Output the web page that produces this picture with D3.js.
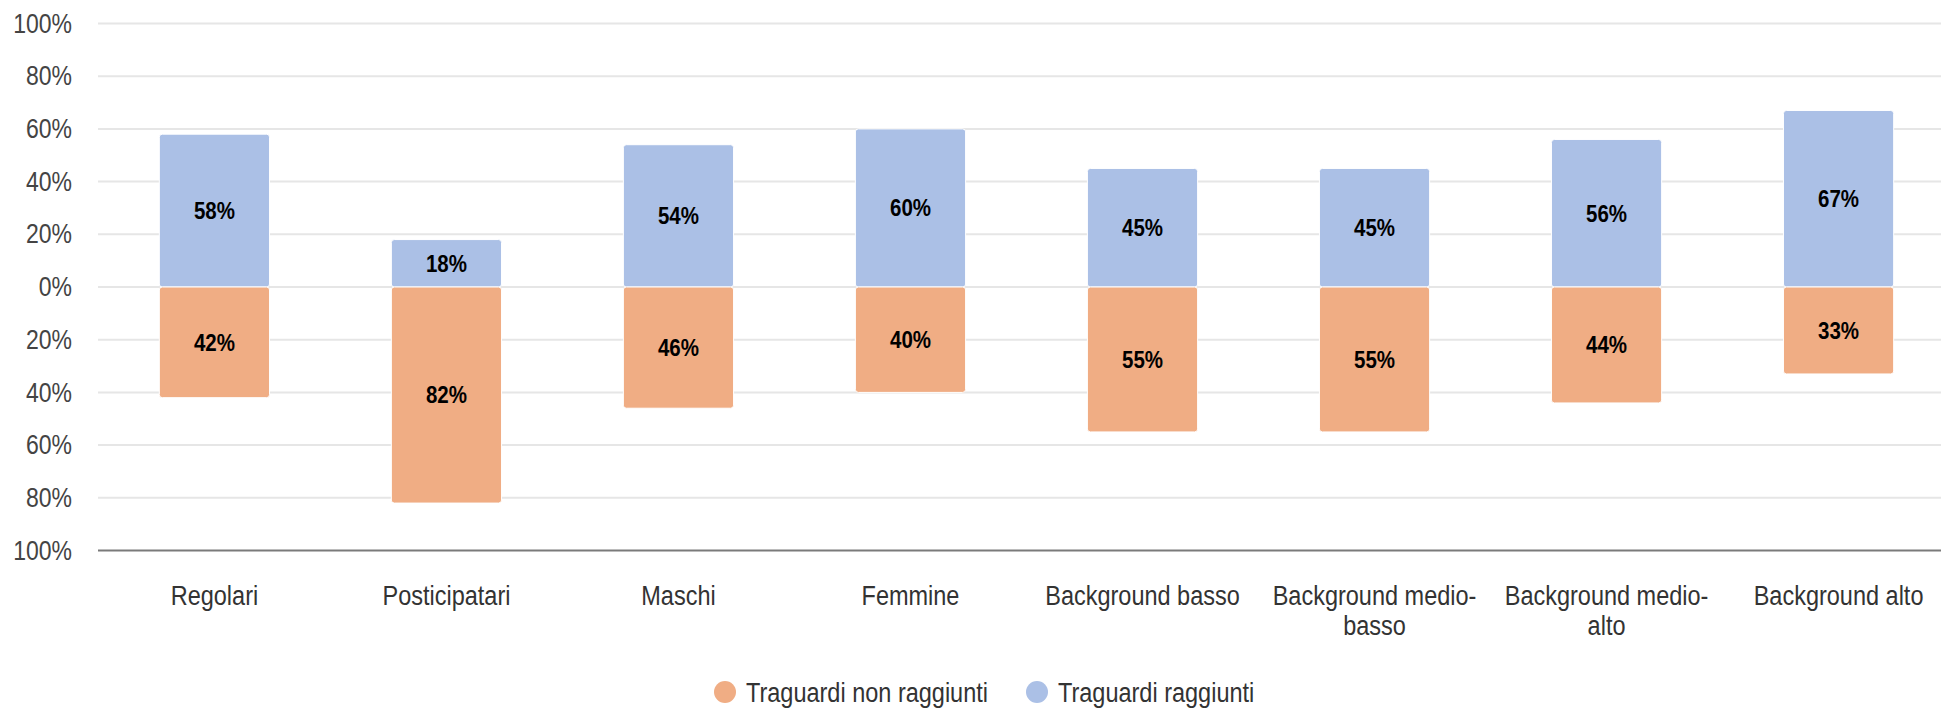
<!DOCTYPE html>
<html>
<head>
<meta charset="utf-8">
<script src="https://cdn.jsdelivr.net/npm/d3@7"></script>
<style>
    body { margin: 0; background: #fff; }
    text { font-family: "Liberation Sans", Arial, sans-serif; }
</style>
</head>
<body>
<svg id="chart" width="1941" height="710"></svg>
<script>
const categories = ["Regolari", "Posticipatari", "Maschi", "Femmine", "Background basso",
    "Background medio-basso", "Background medio-alto", "Background alto"];
const raggiunti = [58, 18, 54, 60, 45, 45, 56, 67];
const nonRaggiunti = [42, 82, 46, 40, 55, 55, 44, 33];
const yTicks = [-100, -80, -60, -40, -20, 0, 20, 40, 60, 80, 100];
const seriesNames = ["Traguardi non raggiunti", "Traguardi raggiunti"];
const seriesColors = ["#f0ad84", "#abc0e6"];

const svg = d3.select("#chart");
const W = 1941;
const stretch = 1.17; // text in the picture is a bit taller than it is wide

const x = d3.scaleBand()
    .domain(categories)
    .range([99, 1954])
    .paddingInner(0.525)
    .paddingOuter(0.26);

const y = d3.scaleLinear()
    .domain([-100, 100])
    .range([550.5, 23.5]);

const cx = d => x(d) + x.bandwidth() / 2;

// gridlines
svg.append("g")
    .selectAll("line")
    .data(yTicks.filter(d => d !== -100))
    .join("line")
    .attr("x1", 98)
    .attr("x2", W)
    .attr("y1", d => y(d))
    .attr("y2", d => y(d))
    .attr("stroke", "#e6e6e6")
    .attr("stroke-width", 2);

// y axis labels
const yAxis = d3.axisLeft(y)
    .tickValues(yTicks)
    .tickSize(0)
    .tickPadding(0)
    .tickFormat(d => Math.abs(d) + "%");

svg.append("g")
    .attr("transform", "translate(72,0)")
    .call(yAxis)
    .call(g => g.select(".domain").remove())
    .selectAll("text")
    .attr("font-size", 23)
    .attr("fill", "#444")
    .attr("font-family", "Liberation Sans, Arial, sans-serif")
    .attr("transform", `scale(1,${stretch})`);

// bars
const bars = svg.append("g");

bars.selectAll("rect.up")
    .data(categories)
    .join("rect")
    .attr("class", "up")
    .attr("x", d => x(d))
    .attr("width", x.bandwidth())
    .attr("y", (d, i) => y(raggiunti[i]))
    .attr("height", (d, i) => y(0) - y(raggiunti[i]))
    .attr("rx", 3)
    .attr("fill", seriesColors[1])
    .attr("stroke", "#fff")
    .attr("stroke-width", 1);

bars.selectAll("rect.down")
    .data(categories)
    .join("rect")
    .attr("class", "down")
    .attr("x", d => x(d))
    .attr("width", x.bandwidth())
    .attr("y", y(0))
    .attr("height", (d, i) => y(-nonRaggiunti[i]) - y(0))
    .attr("rx", 3)
    .attr("fill", seriesColors[0])
    .attr("stroke", "#fff")
    .attr("stroke-width", 1);

// value labels
const labels = svg.append("g")
    .attr("font-size", 20.5)
    .attr("font-weight", "bold")
    .attr("fill", "#000")
    .attr("text-anchor", "middle");

labels.selectAll("text.up")
    .data(categories)
    .join("text")
    .attr("class", "up")
    .attr("transform", (d, i) => `translate(${cx(d)},${y(raggiunti[i] / 2)}) scale(1,${stretch})`)
    .attr("dy", "0.35em")
    .text((d, i) => raggiunti[i] + "%");

labels.selectAll("text.down")
    .data(categories)
    .join("text")
    .attr("class", "down")
    .attr("transform", (d, i) => `translate(${cx(d)},${y(-nonRaggiunti[i] / 2)}) scale(1,${stretch})`)
    .attr("dy", "0.35em")
    .text((d, i) => nonRaggiunti[i] + "%");

// bottom axis line
svg.append("line")
    .attr("x1", 98)
    .attr("x2", W)
    .attr("y1", y(-100))
    .attr("y2", y(-100))
    .attr("stroke", "#7a7a7a")
    .attr("stroke-width", 2);

// category labels, broken after the hyphen
const xLabels = svg.append("g")
    .attr("font-size", 23.5)
    .attr("fill", "#333")
    .attr("text-anchor", "middle");

xLabels.selectAll("text")
    .data(categories)
    .join("text")
    .attr("transform", d => `translate(${cx(d)},605) scale(1,${stretch})`)
    .each(function (d) {
        const parts = d.split(/(?<=-)/);
        d3.select(this).selectAll("tspan")
            .data(parts)
            .join("tspan")
            .attr("x", 0)
            .attr("dy", (p, i) => i === 0 ? 0 : 30 / stretch)
            .text(p => p);
    });

// legend
const legend = svg.append("g")
    .attr("font-size", 23.5)
    .attr("fill", "#333");

const legendX = [725, 1037];
const item = legend.selectAll("g")
    .data(seriesNames)
    .join("g")
    .attr("transform", (d, i) => `translate(${legendX[i]},692)`);

item.append("circle")
    .attr("r", 11)
    .attr("fill", (d, i) => seriesColors[i]);

item.append("text")
    .attr("transform", `translate(21,0) scale(1,${stretch})`)
    .attr("dy", "0.35em")
    .text(d => d);
</script>
</body>
</html>
